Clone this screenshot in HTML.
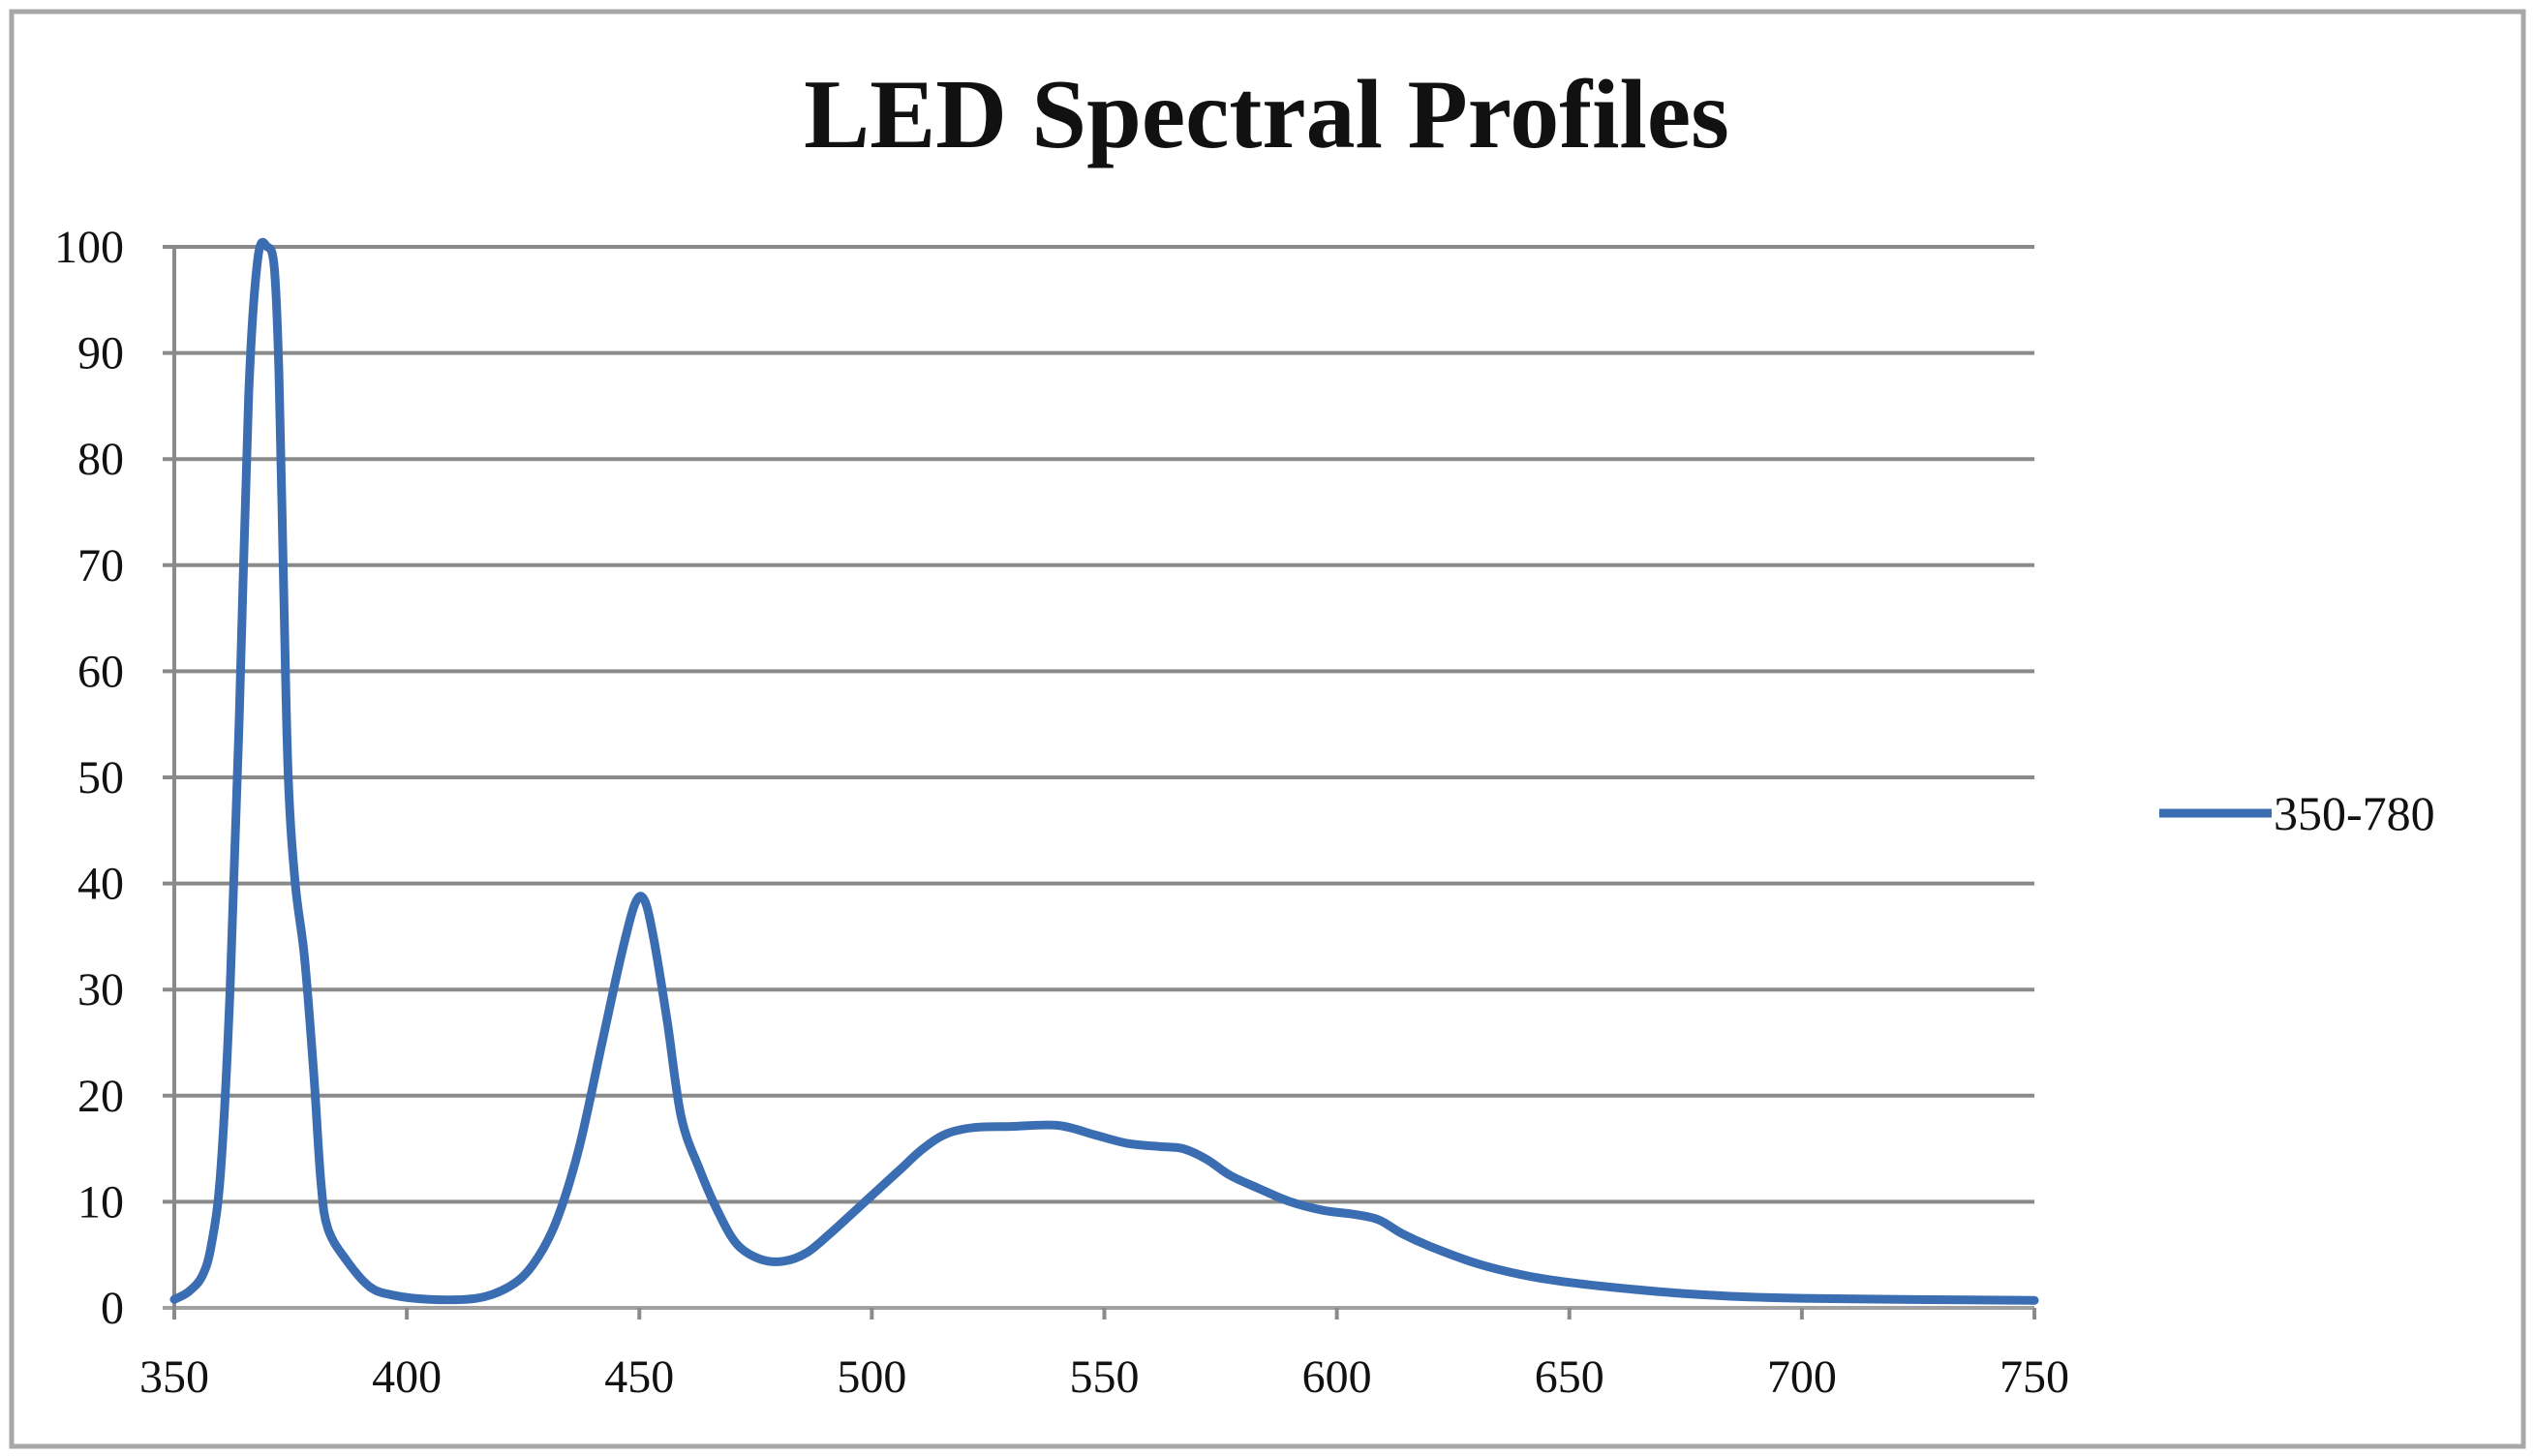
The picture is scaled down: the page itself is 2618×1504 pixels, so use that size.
<!DOCTYPE html>
<html><head><meta charset="utf-8"><style>
html,body{margin:0;padding:0;background:#fff;}
svg{display:block;}
text{font-family:"Liberation Serif",serif;fill:#111;}
</style></head><body>
<svg id="s" width="2618" height="1504" viewBox="0 0 2618 1504" xmlns="http://www.w3.org/2000/svg">
<rect x="0" y="0" width="2618" height="1504" fill="#fff"/>
<rect x="12" y="12" width="2594" height="1482" fill="none" stroke="#a8a8a8" stroke-width="5"/>
<text x="1308" y="152" font-size="102" font-weight="bold" text-anchor="middle">LED Spectral Profiles</text>
<g id="grid"></g>
<path id="curve" fill="none" stroke="#3b6db3" stroke-width="9" stroke-linejoin="round" stroke-linecap="round"/>
<line x1="2230" y1="840" x2="2346" y2="840" stroke="#3b6db3" stroke-width="9"/>
<text x="2348" y="857" font-size="50">350-780</text>
</svg>
<script>
var L=180,R=2101,T=255,B=1351;
function X(w){return L+(w-350)*(R-L)/400;}
function Y(v){return B-v*(B-T)/100;}
var g=document.getElementById('grid'),h='';
for(var v=0;v<=100;v+=10){var y=Y(v);
h+='<line x1="'+(L-12)+'" y1="'+y+'" x2="'+R+'" y2="'+y+'" stroke="'+(v==0?'#a0a0a0':'#8a8a8a')+'" stroke-width="4"/>';
h+='<text x="128" y="'+(y+16)+'" font-size="48" text-anchor="end">'+v+'</text>';}
h+='<line x1="'+L+'" y1="'+T+'" x2="'+L+'" y2="'+(B+10)+'" stroke="#8a8a8a" stroke-width="4"/>';
for(var w=350;w<=750;w+=50){var x=X(w);
h+='<line x1="'+x+'" y1="'+B+'" x2="'+x+'" y2="'+(B+12)+'" stroke="#8a8a8a" stroke-width="4"/>';
h+='<text x="'+x+'" y="1438" font-size="48" text-anchor="middle">'+w+'</text>';}
g.innerHTML=h;
var d=[[350,0.8],[353,1.5],[356,3],[358,6],[360,13],[362,30],[364,56],[366,86],[368,99],[370,100],[371.5,98],[372.5,88],[373.5,68],[374.5,50],[376,40],[378,33],[380,22],[381.5,12],[383,7.5],[387,4.5],[392,2],[397,1.2],[405,0.8],[415,0.9],[422,2],[427,4],[432,8],[437,15],[442,25],[446,33],[449,38],[451,38.5],[453,35],[456,27],[459,18],[463,13],[467,9],[471,6],[476,4.6],[481,4.4],[486,5.2],[491,7],[496,9],[501,11],[506,13],[511,15],[516,16.4],[522,17],[530,17.1],[540,17.2],[548,16.3],[555,15.5],[562,15.2],[567,15],[572,14],[577,12.5],[583,11.3],[590,10],[597,9.2],[604,8.8],[609,8.3],[614,7],[620,5.8],[630,4.2],[640,3.1],[650,2.4],[665,1.7],[680,1.2],[700,0.9],[750,0.7]];
var P=d.map(function(q){return [X(q[0]),Y(q[1])];});
var p='M'+P[0][0].toFixed(1)+' '+P[0][1].toFixed(1);
for(var i=0;i<P.length-1;i++){var p0=P[Math.max(0,i-1)],p1=P[i],p2=P[i+1],p3=P[Math.min(P.length-1,i+2)];
var c1x=p1[0]+(p2[0]-p0[0])/6,c1y=p1[1]+(p2[1]-p0[1])/6,c2x=p2[0]-(p3[0]-p1[0])/6,c2y=p2[1]-(p3[1]-p1[1])/6;
p+='C'+c1x.toFixed(1)+' '+c1y.toFixed(1)+' '+c2x.toFixed(1)+' '+c2y.toFixed(1)+' '+p2[0].toFixed(1)+' '+p2[1].toFixed(1);}
document.getElementById('curve').setAttribute('d',p);
</script>
</body></html>
